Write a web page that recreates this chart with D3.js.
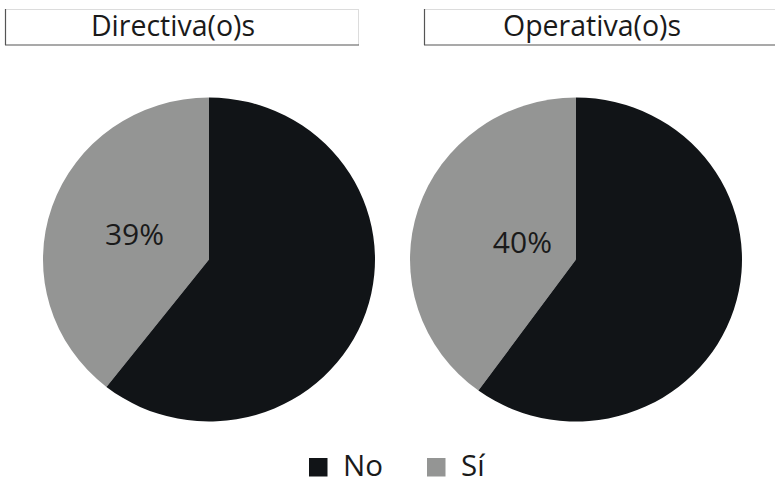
<!DOCTYPE html>
<html>
<head>
<meta charset="utf-8">
<script src="https://cdn.jsdelivr.net/npm/d3@7"></script>
<style>
  html, body { margin: 0; padding: 0; background: #fff; }
  svg { display: block; }
  text { font-family: "Open Sans", "Noto Sans", sans-serif; fill: #1a1a1a; }
</style>
</head>
<body>
<svg id="chart" width="775" height="479"></svg>
<script>
// ---- data ----
const panels = ["Directiva(o)s", "Operativa(o)s"];
const categories = ["No", "Sí"];
const noValues = [60.6, 60.0];
const siValues = [39.4, 40.0];

// ---- layout / style ----
const W = 775, H = 479;
const colors = { "No": "#111417", "Sí": "#949594" };
const stripX = [5, 424], stripY = 9, stripW = 354, stripH = 36, titleDX = 168, titleBaseline = 36;
const pieCX = [209, 576], pieCY = 259.5, rY = 162, rX = 166;
const labelR = [77, 55];

const svg = d3.select("#chart");

const pie = d3.pie().sort(null).value(d => d.value)
  .startAngle(0).endAngle(-2 * Math.PI);
const arc = d3.arc().innerRadius(0).outerRadius(rY);
const color = d3.scaleOrdinal().domain(categories).range(categories.map(c => colors[c]));

panels.forEach((p, i) => {
  // strip
  const sx = stripX[i];
  const g = svg.append("g");
  g.append("rect").attr("x", sx).attr("y", stripY).attr("width", stripW).attr("height", stripH)
    .attr("fill", "#fff");
  g.append("line").attr("x1", sx).attr("x2", sx + stripW).attr("y1", stripY + 0.5).attr("y2", stripY + 0.5)
    .attr("stroke", "#dcdcdc").attr("stroke-width", 1);
  g.append("line").attr("x1", sx + stripW - 0.5).attr("x2", sx + stripW - 0.5).attr("y1", stripY).attr("y2", stripY + stripH)
    .attr("stroke", "#dcdcdc").attr("stroke-width", 1);
  g.append("line").attr("x1", sx + 0.5).attr("x2", sx + 0.5).attr("y1", stripY).attr("y2", stripY + stripH)
    .attr("stroke", "#555").attr("stroke-width", 1.2);
  g.append("line").attr("x1", sx).attr("x2", sx + stripW).attr("y1", stripY + stripH).attr("y2", stripY + stripH)
    .attr("stroke", "#555").attr("stroke-width", 1.2);
  g.append("text").attr("x", sx + titleDX).attr("y", titleBaseline)
    .attr("text-anchor", "middle").attr("font-size", 28.5).text(p);

  // pie: Sí first, drawn counter-clockwise from 12 o'clock
  const data = [{ cat: "Sí", value: siValues[i] }, { cat: "No", value: noValues[i] }];
  const arcs = pie(data);
  const pg = svg.append("g")
    .attr("transform", `translate(${pieCX[i]},${pieCY})`);
  const sg = pg.append("g").attr("transform", `scale(${rX / rY},1)`);
  sg.selectAll("path").data(arcs).join("path")
    .attr("d", arc).attr("fill", d => color(d.data.cat));

  const lab = d3.arc().innerRadius(labelR[i]).outerRadius(labelR[i]);
  const si = arcs.find(a => a.data.cat === "Sí");
  const c = lab.centroid(si);
  pg.append("text")
    .attr("x", c[0] * rX / rY).attr("y", c[1])
    .attr("dy", "0.36em")
    .attr("text-anchor", "middle").attr("font-size", 30)
    .text(Math.round(si.data.value) + "%");
});

// legend
const legX = [309, 427], legY = 458, box = 18.5, legTextDX = 34, legBaseline = 476;
categories.forEach((c, i) => {
  svg.append("rect").attr("x", legX[i]).attr("y", legY).attr("width", box).attr("height", box)
    .attr("fill", color(c));
  svg.append("text").attr("x", legX[i] + legTextDX).attr("y", legBaseline)
    .attr("font-size", 29.5).text(c);
});
</script>
</body>
</html>
